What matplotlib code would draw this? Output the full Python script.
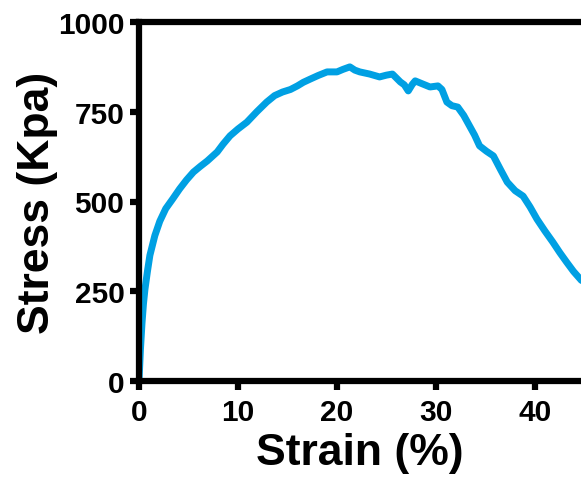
import numpy as np
import matplotlib
matplotlib.use("Agg")
import matplotlib.pyplot as plt

plt.rcParams['font.family'] = ['Liberation Sans', 'DejaVu Sans']
plt.rcParams['font.weight'] = 'bold'

# stress-strain curve
strain = [0, 0.15, 0.3, 0.45, 0.6, 0.85, 1.1, 1.6, 2.1, 2.7, 3.4, 4.1, 4.8, 5.5,
          6.2, 6.9, 7.9, 8.5, 9.2, 10.0, 10.9, 11.9, 12.9, 13.7, 14.5, 15.3,
          16.0, 16.6, 17.3, 18.1, 19.0, 20.0, 20.6, 21.3, 21.8, 22.3, 23.3,
          24.3, 25.0, 25.6, 26.4, 26.8, 27.2, 27.6, 27.9, 28.6, 29.4, 30.2,
          30.6, 31.1, 31.6, 32.2, 32.8, 33.4, 33.9, 34.4, 35.1, 35.8, 36.5,
          37.2, 38.0, 38.8, 39.5, 40.2, 41.0, 41.8, 42.5, 43.2, 43.9, 44.7]
stress = [0, 90, 160, 215, 255, 305, 350, 405, 445, 480, 507, 535, 560, 582,
          598, 613, 638, 660, 683, 702, 721, 750, 777, 795, 805, 812,
          822, 832, 841, 851, 861, 861, 868, 875, 866, 861, 855,
          847, 852, 855, 833, 825, 808, 826, 836, 828, 819, 822,
          812, 777, 767, 763, 740, 710, 685, 655, 640, 627, 590,
          554, 530, 515, 485, 451, 418, 387, 358, 331, 305, 280]

xticks = [0, 10, 20, 30, 40]
yticks = [0, 250, 500, 750, 1000]

fig = plt.figure(figsize=(5.81, 4.81), dpi=100)
ax = fig.add_axes([139/581, 99/481, 442/581, 359/481])

ax.plot(strain, stress, color='#00A0E3', lw=5, solid_capstyle='round', solid_joinstyle='round')

ax.set_xlim(0, 44.65)
ax.set_ylim(0, 1000)
ax.set_xticks(xticks)
ax.set_yticks(yticks)

for side in ['left', 'bottom', 'top']:
    ax.spines[side].set_linewidth(4.5)
ax.spines['right'].set_visible(False)
ax.tick_params(axis='both', direction='out', length=6.5, width=4.5, labelsize=21.5)
ax.tick_params(axis='x', pad=6)
ax.tick_params(axis='y', pad=4)
ax.tick_params(top=False, right=False)
for lab in ax.get_xticklabels() + ax.get_yticklabels():
    lab.set_fontweight('bold')

ax.set_xlabel('Strain (%)', fontsize=32, fontweight='bold', labelpad=4)
ax.set_ylabel('Stress (Kpa)', fontsize=32, fontweight='bold', labelpad=0)

fig.savefig('out.png', dpi=100)
